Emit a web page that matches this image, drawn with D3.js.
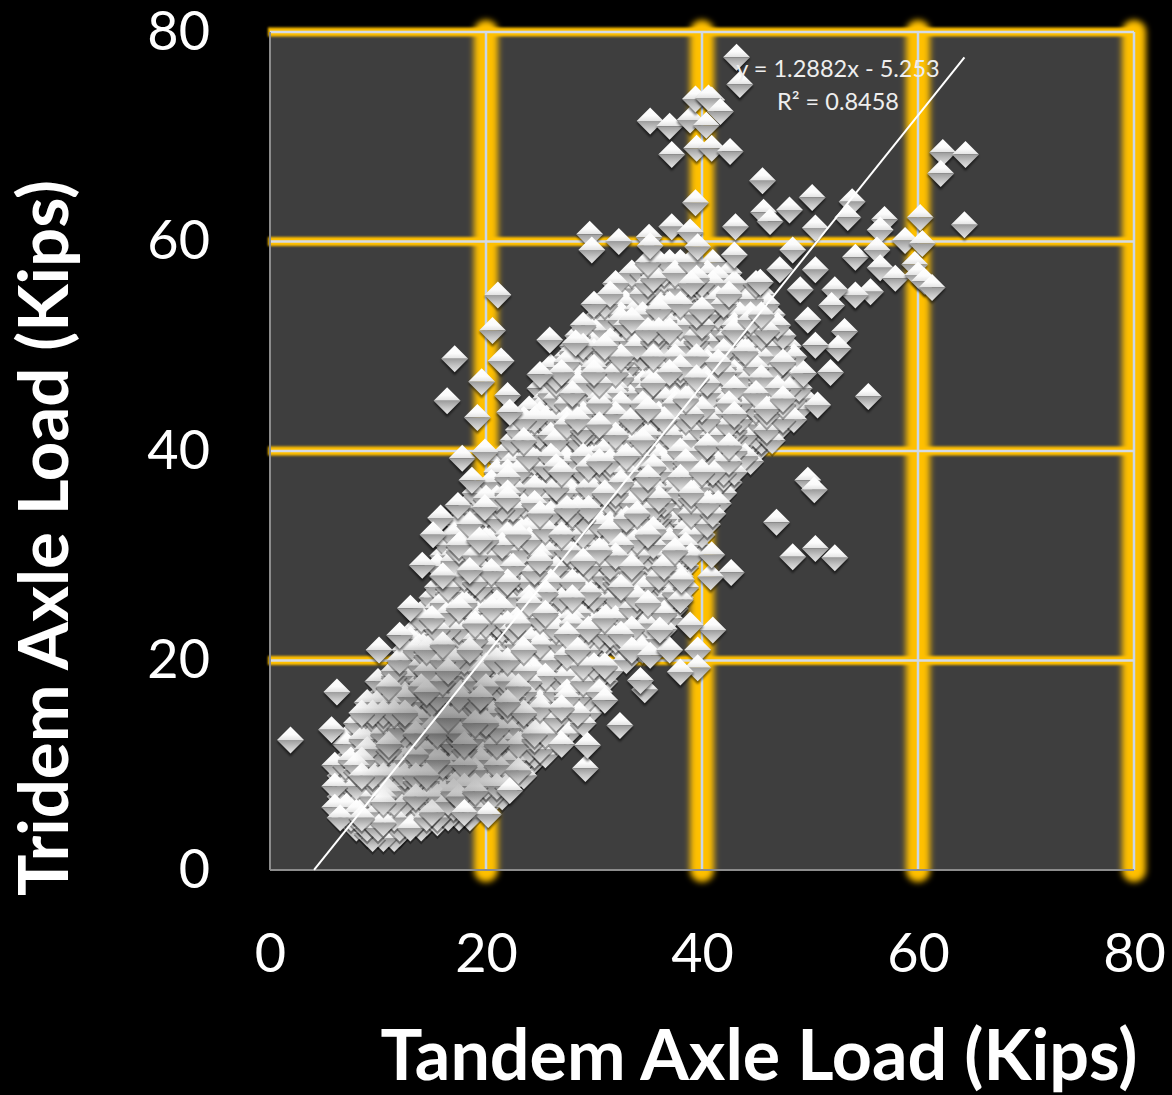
<!DOCTYPE html>
<html>
<head>
<meta charset="utf-8">
<script src="https://cdn.jsdelivr.net/npm/d3@7"></script>
<style>
  html, body { margin: 0; background: #000; }
  text { font-family: Lato, "Open Sans", sans-serif; fill: #fff; }
</style>
</head>
<body>
<div id="plot"></div>
<script>
const xTicks = [0, 20, 40, 60, 80];
const yTicks = [0, 20, 40, 60, 80];
const xTitle = "Tandem Axle Load (Kips)";
const yTitle = "Tridem Axle Load (Kips)";
const equationLines = ["y = 1.2882x - 5.253", "R² = 0.8458"];
const trendSlope = 1.2882;
const trendIntercept = -5.253;
const trendRange = [4.08, 64.3];

// Isolated diamonds
const outlierTandem = [1.9,6.2,10.1,5.7,43.2,43.5,35.2,37,38.9,39.4,40.9,40.6,41.7,40.4,37.2,39.5,40.9,42.6,45.6,39.4,45.7,46.3,43.1,48.1,50.2,50.5,53.9,53.5,56.9,56.5,60.2,62.3,64.4,62.1,64.3,58.8,60.4,29.6,29.8,32.3,35.1,35.2,37.2,38.9,39.6,48.4,54.2,56.2,56.5,57.9,59.7,60,60.6,61.3,55.6,54.2,52.3,52,53.2,52.6,51.9,55.4,50.7,49.4,50.5,49.8,50.5,49.1,49.8,50.4,46.9,48.4,50.5,52.3,41,42.7,40.8,40.9,39.6,39.6,38,38.9,34.7,32.4,29.2,29.4,20.2,18,22.2,21.1,20.6,21.4,17.1,19.6,16.4,19.2,22,22.2,17.8,19.9,18.7,17.4,19.9,15.8,15.1,19.4,14.1,16,18.5,13,12,25.9,28.3,25,35.2,37,36.1,38,38.1,31,34.3,47.2,43,45.4];
const outlierTridem = [12.4,17,21,13.4,77.6,75,71.5,71,71.6,73.6,73.5,73.7,72.4,71.1,68.3,68.9,68.9,68.6,65.8,63.7,62.8,61.9,61.4,63,64.2,61.3,63.8,62.3,62.1,61.1,62.3,68.5,68.3,66.5,61.6,60.1,59.8,60.7,59.2,60,60.4,59.6,61.4,60.9,59.5,59.2,58.5,59.2,57.5,56.5,57.8,56.8,56.2,55.6,55.2,54.9,55.4,53.9,51.4,49.8,47.5,45.2,44.4,47.4,50.1,52.5,57.3,55.4,37.2,36.3,33.2,29.9,30.7,29.8,22.9,28.4,28,30.1,21,19.3,18.9,23.4,17.2,13.8,9.7,11.9,5.3,5.5,7.6,54.9,51.5,48.6,48.8,46.6,44.8,43.2,45.3,43.7,39.3,39.9,37.2,34.8,34.6,33.6,32,31.5,29.1,28.1,28.6,25,22.4,50.6,50.3,47.3,20.5,21,22.9,25.8,27.7,16.2,18.1,57.3,58.7,56.1];

// Dense cloud: tridem level of each row, and the tandem loads estimated along it
const cloudTridem = [3,4,5,6,7,8,9,10,11,12,13,14,15,16,17,18,19,20,21,22,23,24,25,26,27,28,29,30,31,32,33,34,35,36,37,38,39,40,41,42,43,44,45,46,47,48,49,50,51,52,53,54,55,56,57,58];
const cloudTandem = [
[9.5,10.5,11.5],
[8,9,10,11,12,13,14],
[6.5,7.5,8.5,9.5,10.5,11.5,12.5,13.5,14.5,15.5,16.5,17.5,18.5],
[6,7,8,9,10,11,12,13,14,15,16,17,18,19,20],
[6.5,7.5,8.5,9.5,10.5,11.5,12.5,13.5,14.5,15.5,16.5,17.5,18.5,19.5,20.5,21.5],
[6,7,8,9,10,11,12,13,14,15,16,17,18,19,20,21,22],
[6.5,7.5,8.5,9.5,10.5,11.5,12.5,13.5,14.5,15.5,16.5,17.5,18.5,19.5,20.5,21.5,22.5,23.5],
[6,7,8,9,10,11,12,13,14,15,16,17,18,19,20,21,22,23,24],
[7.5,8.5,9.5,10.5,11.5,12.5,13.5,14.5,15.5,16.5,17.5,18.5,19.5,20.5,21.5,22.5,23.5,24.5,25.5],
[7,8,9,10,11,12,13,14,15,16,17,18,19,20,21,22,23,24,25,26,27],
[7.5,8.5,9.5,10.5,11.5,12.5,13.5,14.5,15.5,16.5,17.5,18.5,19.5,20.5,21.5,22.5,23.5,24.5,25.5,26.5,27.5],
[8,9,10,11,12,13,14,15,16,17,18,19,20,21,22,23,24,25,26,27,28,29],
[8.5,9.5,10.5,11.5,12.5,13.5,14.5,15.5,16.5,17.5,18.5,19.5,20.5,21.5,22.5,23.5,24.5,25.5,26.5,27.5,28.5,29.5],
[9,10,11,12,13,14,15,16,17,18,19,20,21,22,23,24,25,26,27,28,29,30],
[10.5,11.5,12.5,13.5,14.5,15.5,16.5,17.5,18.5,19.5,20.5,21.5,22.5,23.5,24.5,25.5,26.5,27.5,28.5,29.5,30.5],
[10,11,12,13,14,15,16,17,18,19,20,21,22,23,24,25,26,27,28,29,30,31],
[11.5,12.5,13.5,14.5,15.5,16.5,17.5,18.5,19.5,20.5,21.5,22.5,23.5,24.5,25.5,26.5,27.5,28.5,29.5,30.5,31.5],
[12,13,14,15,16,17,18,19,20,21,22,23,24,25,26,27,28,29,30,33],
[12.5,13.5,14.5,15.5,16.5,17.5,18.5,19.5,20.5,21.5,22.5,23.5,24.5,25.5,26.5,27.5,28.5,29.5,33.5,34.5],
[13,14,15,16,17,18,19,20,21,22,23,24,25,26,27,28,29,30,31,32,33,34,35,36],
[13.5,14.5,15.5,16.5,17.5,18.5,19.5,20.5,21.5,22.5,23.5,24.5,25.5,26.5,27.5,28.5,29.5,30.5,31.5,32.5,33.5,34.5,35.5,36.5],
[14,15,16,17,18,19,20,21,22,23,24,25,26,27,28,29,30,31,32,33,34,35,36,37],
[14.5,15.5,16.5,17.5,18.5,19.5,20.5,21.5,22.5,23.5,24.5,25.5,26.5,27.5,28.5,29.5,30.5,31.5,32.5,33.5,34.5,35.5,36.5,37.5],
[15,16,17,18,19,20,21,22,23,24,25,26,27,28,29,30,31,32,33,34,35,36,37,38],
[15.5,16.5,17.5,18.5,19.5,20.5,21.5,22.5,23.5,24.5,25.5,26.5,27.5,28.5,29.5,30.5,31.5,32.5,33.5,34.5,35.5,36.5,37.5,38.5],
[16,17,18,19,20,21,22,23,24,25,26,27,28,29,30,31,32,33,34,35,36,37,38],
[15.5,16.5,17.5,18.5,19.5,20.5,21.5,22.5,23.5,24.5,25.5,26.5,27.5,28.5,29.5,30.5,31.5,32.5,33.5,34.5,35.5,36.5,37.5,38.5],
[16,17,18,19,20,21,22,23,24,25,26,27,28,29,30,31,32,33,34,35,36,37,38,39],
[16.5,17.5,18.5,19.5,20.5,21.5,22.5,23.5,24.5,25.5,26.5,27.5,28.5,29.5,30.5,31.5,32.5,33.5,34.5,35.5,36.5,37.5,38.5,39.5],
[17,18,19,20,21,22,23,24,25,26,27,28,29,30,31,32,33,34,35,36,37,38,39,40],
[17.5,18.5,19.5,20.5,21.5,22.5,23.5,24.5,25.5,26.5,27.5,28.5,29.5,30.5,31.5,32.5,33.5,34.5,35.5,36.5,37.5,38.5,39.5,40.5],
[18,19,20,21,22,23,24,25,26,27,28,29,30,31,32,33,34,35,36,37,38,39,40,41],
[18.5,19.5,20.5,21.5,22.5,23.5,24.5,25.5,26.5,27.5,28.5,29.5,30.5,31.5,32.5,33.5,34.5,35.5,36.5,37.5,38.5,39.5,40.5,41.5],
[19,20,21,22,23,24,25,26,27,28,29,30,31,32,33,34,35,36,37,38,39,40,41,42],
[20.5,21.5,22.5,23.5,24.5,25.5,26.5,27.5,28.5,29.5,30.5,31.5,32.5,33.5,34.5,35.5,36.5,37.5,38.5,39.5,40.5,41.5,42.5],
[21,22,23,24,25,26,27,28,29,30,31,32,33,34,35,36,37,38,39,40,41,42,43],
[21.5,22.5,23.5,24.5,25.5,26.5,27.5,28.5,29.5,30.5,31.5,32.5,33.5,34.5,35.5,36.5,37.5,38.5,39.5,40.5,41.5,42.5,43.5,44.5],
[22,23,24,25,26,27,28,29,30,31,32,33,34,35,36,37,38,39,40,41,42,43,44,45],
[22.5,23.5,24.5,25.5,26.5,27.5,28.5,29.5,30.5,31.5,32.5,33.5,34.5,35.5,36.5,37.5,38.5,39.5,40.5,41.5,42.5,43.5,44.5,45.5,46.5],
[23,24,25,26,27,28,29,30,31,32,33,34,35,36,37,38,39,40,41,42,43,44,45,46,47],
[23.5,24.5,25.5,26.5,27.5,28.5,29.5,30.5,31.5,32.5,33.5,34.5,35.5,36.5,37.5,38.5,39.5,40.5,41.5,42.5,43.5,44.5,45.5,46.5,47.5,48.5],
[24,25,26,27,28,29,30,31,32,33,34,35,36,37,38,39,40,41,42,43,44,45,46,47,48,49],
[25.5,26.5,27.5,28.5,29.5,30.5,31.5,32.5,33.5,34.5,35.5,36.5,37.5,38.5,39.5,40.5,41.5,42.5,43.5,44.5,45.5,46.5,47.5,48.5,49.5],
[25,26,27,28,29,30,31,32,33,34,35,36,37,38,39,40,41,42,43,44,45,46,47,48,49],
[26.5,27.5,28.5,29.5,30.5,31.5,32.5,33.5,34.5,35.5,36.5,37.5,38.5,39.5,40.5,41.5,42.5,43.5,44.5,45.5,46.5,47.5,48.5],
[26,27,28,29,30,31,32,33,34,35,36,37,38,39,40,41,42,43,44,45,46,47,48],
[27.5,28.5,29.5,30.5,31.5,32.5,33.5,34.5,35.5,36.5,37.5,38.5,39.5,40.5,41.5,42.5,43.5,44.5,45.5,46.5,47.5,48.5],
[28,29,30,31,32,33,34,35,36,37,38,39,40,41,42,43,44,45,46,47,48],
[28.5,29.5,30.5,31.5,32.5,33.5,34.5,35.5,36.5,37.5,38.5,39.5,40.5,41.5,42.5,43.5,44.5,45.5,46.5,47.5],
[29,30,31,32,33,34,35,36,37,38,39,40,41,42,43,44,45,46,47],
[30.5,31.5,32.5,33.5,34.5,35.5,36.5,37.5,38.5,39.5,40.5,41.5,42.5,43.5,44.5,45.5,46.5],
[30,31,32,33,34,35,36,37,38,39,40,41,42,43,44,45,46],
[31.5,32.5,33.5,34.5,35.5,36.5,37.5,38.5,39.5,40.5,41.5,42.5,43.5,45.5],
[32,33,34,35,36,37,38,39,40,41,43,45],
[33.5,34.5,35.5,36.5,37.5,38.5,39.5,40.5,42.5],
[35,36,37,38,39,41]
];

// Second pass over the cloud, between the rows above
const infillTridem = [3.5,4.5,5.5,6.5,7.5,8.5,9.5,10.5,11.5,12.5,13.5,14.5,15.5,16.5,17.5,18.5,19.5,20.5,21.5,22.5,23.5,24.5,25.5,26.5,27.5,28.5,29.5,30.5,31.5,32.5,33.5,34.5,35.5,36.5,37.5,38.5,39.5,40.5,41.5,42.5,43.5,44.5,45.5,46.5,47.5,48.5,49.5,50.5,51.5,52.5,53.5,54.5,55.5,56.5];
const infillTandem = [
[9,10,11,12],
[8.5,9.5,10.5,11.5,12.5,13.5,14.5,15.5],
[7,8,9,10,11,12,13,14,15,16,17,18],
[7.5,8.5,9.5,10.5,11.5,12.5,13.5,14.5,15.5,16.5,17.5,18.5,19.5],
[7,8,9,10,11,12,13,14,15,16,17,18,19,20,21],
[7.5,8.5,9.5,10.5,11.5,12.5,13.5,14.5,15.5,16.5,17.5,18.5,19.5,20.5,21.5,22.5],
[7,8,9,10,11,12,13,14,15,16,17,18,19,20,21,22,23],
[7.5,8.5,9.5,10.5,11.5,12.5,13.5,14.5,15.5,16.5,17.5,18.5,19.5,20.5,21.5,22.5,23.5,24.5],
[8,9,10,11,12,13,14,15,16,17,18,19,20,21,22,23,24,25],
[8.5,9.5,10.5,11.5,12.5,13.5,14.5,15.5,16.5,17.5,18.5,19.5,20.5,21.5,22.5,23.5,24.5,25.5,26.5],
[9,10,11,12,13,14,15,16,17,18,19,20,21,22,23,24,25,26,27],
[9.5,10.5,11.5,12.5,13.5,14.5,15.5,16.5,17.5,18.5,19.5,20.5,21.5,22.5,23.5,24.5,25.5,26.5,27.5,28.5],
[10,11,12,13,14,15,16,17,18,19,20,21,22,23,24,25,26,27,28,29],
[10.5,11.5,12.5,13.5,14.5,15.5,16.5,17.5,18.5,19.5,20.5,21.5,22.5,23.5,24.5,25.5,26.5,27.5,28.5,29.5],
[11,12,13,14,15,16,17,18,19,20,21,22,23,24,25,26,27,28,29,30],
[11.5,12.5,13.5,14.5,15.5,16.5,17.5,18.5,19.5,20.5,21.5,22.5,23.5,24.5,25.5,26.5,27.5,28.5,29.5,30.5],
[12,13,14,15,16,17,18,19,20,21,22,23,24,25,26,27,28,29,30,31],
[13.5,14.5,15.5,16.5,17.5,18.5,19.5,20.5,21.5,22.5,23.5,24.5,25.5,26.5,27.5,28.5,29.5],
[14,15,16,17,18,19,20,21,22,23,24,25,26,27,28,29,30,31,32,33,34,35],
[14.5,15.5,16.5,17.5,18.5,19.5,20.5,21.5,22.5,23.5,24.5,25.5,26.5,27.5,28.5,29.5,30.5,31.5,32.5,33.5,34.5,35.5],
[15,16,17,18,19,20,21,22,23,24,25,26,27,28,29,30,31,32,33,34,35,36],
[15.5,16.5,17.5,18.5,19.5,20.5,21.5,22.5,23.5,24.5,25.5,26.5,27.5,28.5,29.5,30.5,31.5,32.5,33.5,34.5,35.5,36.5],
[16,17,18,19,20,21,22,23,24,25,26,27,28,29,30,31,32,33,34,35,36,37],
[16.5,17.5,18.5,19.5,20.5,21.5,22.5,23.5,24.5,25.5,26.5,27.5,28.5,29.5,30.5,31.5,32.5,33.5,34.5,35.5,36.5,37.5],
[17,18,19,20,21,22,23,24,25,26,27,28,29,30,31,32,33,34,35,36,37],
[17.5,18.5,19.5,20.5,21.5,22.5,23.5,24.5,25.5,26.5,27.5,28.5,29.5,30.5,31.5,32.5,33.5,34.5,35.5,36.5,37.5],
[17,18,19,20,21,22,23,24,25,26,27,28,29,30,31,32,33,34,35,36,37,38],
[17.5,18.5,19.5,20.5,21.5,22.5,23.5,24.5,25.5,26.5,27.5,28.5,29.5,30.5,31.5,32.5,33.5,34.5,35.5,36.5,37.5,38.5],
[18,19,20,21,22,23,24,25,26,27,28,29,30,31,32,33,34,35,36,37,38,39],
[18.5,19.5,20.5,21.5,22.5,23.5,24.5,25.5,26.5,27.5,28.5,29.5,30.5,31.5,32.5,33.5,34.5,35.5,36.5,37.5,38.5,39.5],
[19,20,21,22,23,24,25,26,27,28,29,30,31,32,33,34,35,36,37,38,39,40],
[19.5,20.5,21.5,22.5,23.5,24.5,25.5,26.5,27.5,28.5,29.5,30.5,31.5,32.5,33.5,34.5,35.5,36.5,37.5,38.5,39.5,40.5],
[20,21,22,23,24,25,26,27,28,29,30,31,32,33,34,35,36,37,38,39,40,41],
[20.5,21.5,22.5,23.5,24.5,25.5,26.5,27.5,28.5,29.5,30.5,31.5,32.5,33.5,34.5,35.5,36.5,37.5,38.5,39.5,40.5,41.5],
[22,23,24,25,26,27,28,29,30,31,32,33,34,35,36,37,38,39,40,41,42],
[22.5,23.5,24.5,25.5,26.5,27.5,28.5,29.5,30.5,31.5,32.5,33.5,34.5,35.5,36.5,37.5,38.5,39.5,40.5,41.5,42.5],
[23,24,25,26,27,28,29,30,31,32,33,34,35,36,37,38,39,40,41,42,43,44],
[23.5,24.5,25.5,26.5,27.5,28.5,29.5,30.5,31.5,32.5,33.5,34.5,35.5,36.5,37.5,38.5,39.5,40.5,41.5,42.5,43.5,44.5],
[24,25,26,27,28,29,30,31,32,33,34,35,36,37,38,39,40,41,42,43,44,45,46],
[24.5,25.5,26.5,27.5,28.5,29.5,30.5,31.5,32.5,33.5,34.5,35.5,36.5,37.5,38.5,39.5,40.5,41.5,42.5,43.5,44.5,45.5,46.5],
[25,26,27,28,29,30,31,32,33,34,35,36,37,38,39,40,41,42,43,44,45,46,47,48],
[25.5,26.5,27.5,28.5,29.5,30.5,31.5,32.5,33.5,34.5,35.5,36.5,37.5,38.5,39.5,40.5,41.5,42.5,43.5,44.5,45.5,46.5,47.5,48.5],
[26,27,28,29,30,31,32,33,34,35,36,37,38,39,40,41,42,43,44,45,46,47,48],
[26.5,27.5,28.5,29.5,30.5,31.5,32.5,33.5,34.5,35.5,36.5,37.5,38.5,39.5,40.5,41.5,42.5,43.5,44.5,45.5,46.5,47.5],
[27,28,29,30,31,32,33,34,35,36,37,38,39,40,41,42,43,44,45,46,47],
[27.5,28.5,29.5,30.5,31.5,32.5,33.5,34.5,35.5,36.5,37.5,38.5,39.5,40.5,41.5,42.5,43.5,44.5,45.5,46.5,47.5],
[28,29,30,31,32,33,34,35,36,37,38,39,40,41,42,43,44,45,46,47],
[29.5,30.5,31.5,32.5,33.5,34.5,35.5,36.5,37.5,38.5,39.5,40.5,41.5,42.5,43.5,44.5,45.5,46.5],
[30,31,32,33,34,35,36,37,38,39,40,41,42,43,44,45,46],
[30.5,31.5,32.5,33.5,34.5,35.5,36.5,37.5,38.5,39.5,40.5,41.5,42.5,43.5,44.5,45.5],
[31,32,33,34,35,36,37,38,39,40,41,42,43,44,45],
[32.5,33.5,34.5,35.5,36.5,37.5,38.5,39.5,40.5,41.5,42.5,44.5],
[33,34,35,36,37,38,39,40,41,43],
[34.5,35.5,36.5,37.5,38.5,39.5,41.5]
];

document.addEventListener('DOMContentLoaded', function() {
    const margin = { top: 32, right: 38, bottom: 225, left: 270 },
          width = 1172 - margin.left - margin.right,
          height = 1095 - margin.top - margin.bottom;

    const root = d3.select("#plot")
        .append("svg")
        .attr("width", 1172)
        .attr("height", 1095)
        .style("display", "block");

    const defs = root.append("defs");

    // userSpaceOnUse because a straight line has an empty bounding box
    const blur = (id, dev) => defs.append("filter")
        .attr("id", id)
        .attr("filterUnits", "userSpaceOnUse")
        .attr("x", -300).attr("y", -100)
        .attr("width", 1500).attr("height", 1300)
        .append("feGaussianBlur")
        .attr("stdDeviation", dev);
    blur("glow", 3);
    blur("soft", 1.2);

    defs.append("filter")
        .attr("id", "shadow")
        .attr("x", "-30%").attr("y", "-30%")
        .attr("width", "160%").attr("height", "160%")
        .append("feGaussianBlur")
        .attr("stdDeviation", 1.3);

    const gradient = (id, stops) => {
        const g = defs.append("linearGradient")
            .attr("id", id)
            .attr("x1", 0).attr("y1", 0)
            .attr("x2", 0).attr("y2", 1);
        stops.forEach(s => g.append("stop").attr("offset", s[0]).attr("stop-color", s[1]));
    };
    gradient("markTop", [[0, "#ffffff"], [0.6, "#fbfbfb"], [1, "#e2e2e2"]]);
    gradient("markBottom", [[0, "#9c9c9c"], [0.5, "#c4c4c4"], [1, "#e6e6e6"]]);

    // Darker heart of the cloud, where the diamonds pile up the most
    const heart = defs.append("radialGradient").attr("id", "heart");
    heart.append("stop").attr("offset", 0).attr("stop-color", "#333").attr("stop-opacity", 0.5);
    heart.append("stop").attr("offset", 0.55).attr("stop-color", "#333").attr("stop-opacity", 0.3);
    heart.append("stop").attr("offset", 1).attr("stop-color", "#333").attr("stop-opacity", 0);

    const svg = root.append("g")
        .attr("transform", `translate(${margin.left},${margin.top})`);

    const x = d3.scaleLinear().domain([0, 80]).range([0, width]);
    const y = d3.scaleLinear().domain([0, 80]).range([height, 0]);

    // Plot area
    svg.append("rect")
        .attr("width", width)
        .attr("height", height)
        .attr("fill", "#3e3e3e");

    // Orange glowing gridlines, then their pale core
    const gridV = xTicks.filter(d => d > 0);
    const gridH = yTicks.filter(d => d > 0);

    svg.append("g").selectAll("line").data(gridH).join("line")
        .attr("x1", -2).attr("x2", width)
        .attr("y1", d => y(d)).attr("y2", d => y(d))
        .attr("stroke", "#ffc000")
        .attr("stroke-width", 9)
        .attr("filter", "url(#soft)");
    svg.append("g").selectAll("line").data(gridV).join("line")
        .attr("x1", d => x(d)).attr("x2", d => x(d))
        .attr("y1", 0).attr("y2", height)
        .attr("stroke", "#ffc000")
        .attr("stroke-width", 24)
        .attr("stroke-linecap", "round")
        .attr("filter", "url(#glow)");
    svg.append("g").selectAll("line").data(gridV).join("line")
        .attr("x1", d => x(d)).attr("x2", d => x(d))
        .attr("y1", 0).attr("y2", height)
        .attr("stroke", "#c9d6e8")
        .attr("stroke-width", 2.5);
    svg.append("g").selectAll("line").data(gridH).join("line")
        .attr("x1", 0).attr("x2", width)
        .attr("y1", d => y(d)).attr("y2", d => y(d))
        .attr("stroke", "#d5dbe6")
        .attr("stroke-width", 2.5);

    // Gray axis lines
    svg.append("line").attr("x1", 0).attr("x2", 0).attr("y1", 0).attr("y2", height)
        .attr("stroke", "#8c8c8c").attr("stroke-width", 2);
    svg.append("line").attr("x1", 0).attr("x2", width).attr("y1", height).attr("y2", height)
        .attr("stroke", "#8c8c8c").attr("stroke-width", 2);

    // Axes (labels only, lines are drawn above)
    const xAxis = svg.append("g")
        .attr("transform", `translate(0,${height})`)
        .call(d3.axisBottom(x).tickValues(xTicks).tickSize(0).tickPadding(64));
    const yAxis = svg.append("g")
        .call(d3.axisLeft(y).tickValues(yTicks).tickSize(0).tickPadding(60));
    [xAxis, yAxis].forEach(a => {
        a.select(".domain").remove();
        a.selectAll("text").style("font-size", "54px").style("font-family", "Lato").attr("fill", "#fff");
    });

    // Points: cloud first, outliers on top so they stay whole
    const cloud = cloudTridem.flatMap((t, i) => cloudTandem[i].map(v => ({ x: v, y: t })))
        .concat(infillTridem.flatMap((t, i) => infillTandem[i].map(v => ({ x: v, y: t }))));
    const outliers = outlierTandem.map((v, i) => ({ x: v, y: outlierTridem[i] }));
    // Fixed scrambled draw order, the original file had its rows in no particular order
    const drawKey = d => {
        const a = d.x * 2, b = d.y * 2;
        return (a * a * 131 + b * b * 97 + a * b * 211 + a * 17) % 1009;
    };
    cloud.sort((p, q) => drawKey(p) - drawKey(q));

    const r = 13.5;
    const drawMarks = (layer, data, shadowOpacity, shadowFilter) => {
        const marks = layer.selectAll("g").data(data).join("g")
            .attr("transform", d => `translate(${x(d.x)},${y(d.y)})`);
        marks.append("path")
            .attr("d", `M${-r},2 L0,${r + 3} L${r},2 L0,${-r + 3} Z`)
            .attr("fill", "#000")
            .attr("opacity", shadowOpacity)
            .attr("filter", shadowFilter);
        marks.append("path")
            .attr("d", `M${-r},0 L0,${-r} L${r},0 Z`)
            .attr("fill", "url(#markTop)");
        marks.append("path")
            .attr("d", `M${-r},0 L${r},0 L0,${r} Z`)
            .attr("fill", "url(#markBottom)");
    };
    drawMarks(svg.append("g"), cloud, 0.35, null);

    svg.append("ellipse")
        .attr("cx", x(16.7))
        .attr("cy", y(13.4))
        .attr("rx", 100)
        .attr("ry", 100)
        .attr("fill", "url(#heart)");

    drawMarks(svg.append("g"), outliers, 0.55, "url(#shadow)");

    // Trend line
    svg.append("line")
        .attr("x1", x(trendRange[0]))
        .attr("y1", y(trendSlope * trendRange[0] + trendIntercept))
        .attr("x2", x(trendRange[1]))
        .attr("y2", y(trendSlope * trendRange[1] + trendIntercept))
        .attr("stroke", "#fff")
        .attr("stroke-width", 2);

    // Equation
    svg.selectAll(".equation").data(equationLines).join("text")
        .attr("class", "equation")
        .attr("x", 568)
        .attr("y", (d, i) => 45 + i * 33)
        .attr("text-anchor", "middle")
        .style("font-size", "23.5px")
        .style("fill", "#eeeeee")
        .text(d => d);

    // Axis titles
    root.append("text")
        .attr("x", 759)
        .attr("y", 1080)
        .attr("text-anchor", "middle")
        .style("font-size", "70px")
        .style("font-weight", 700)
        .text(xTitle);
    root.append("text")
        .attr("transform", "translate(68,538) rotate(-90)")
        .attr("text-anchor", "middle")
        .style("font-size", "69px")
        .style("font-weight", 700)
        .text(yTitle);
});
</script>
</body>
</html>
